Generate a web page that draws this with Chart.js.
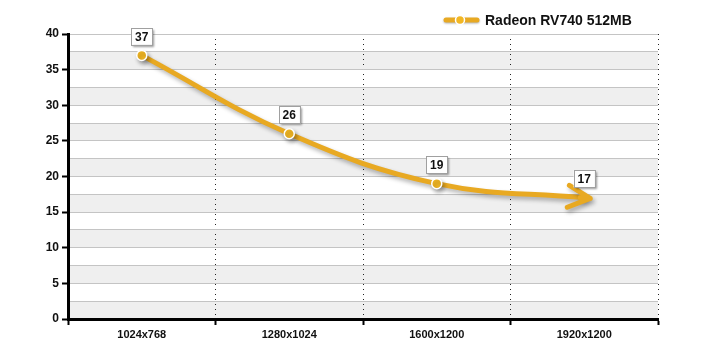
<!DOCTYPE html>
<html>
<head>
<meta charset="utf-8">
<script src="https://cdn.jsdelivr.net/npm/chart.js@4"></script>
<style>
  html, body { margin: 0; padding: 0; background: #fff; }
  #wrap { width: 720px; height: 361px; }
</style>
</head>
<body>
<div id="wrap"><canvas id="chart" width="720" height="361"></canvas></div>
<script>
// chart data
const resolutions = ['1024x768', '1280x1024', '1600x1200', '1920x1200'];
const fpsValues = [37, 26, 19, 17];
const seriesName = 'Radeon RV740 512MB';

const lineColor = '#E8A922';

// gray stripes between every other 2.5 band
const bandsPlugin = {
    id: 'bands',
    beforeDraw(chart) {
        const { ctx, chartArea, scales } = chart;
        ctx.save();
        ctx.fillStyle = '#efefef';
        for (let v = 0; v < 40; v += 5) {
            const y1 = scales.y.getPixelForValue(v);
            const y2 = scales.y.getPixelForValue(v + 2.5);
            ctx.fillRect(chartArea.left, y2, chartArea.right - chartArea.left, y1 - y2);
        }
        ctx.restore();
    }
};

// shadow under the line
const shadowPlugin = {
    id: 'lineShadow',
    beforeDatasetDraw(chart) {
        const ctx = chart.ctx;
        ctx.save();
        ctx.shadowColor = 'rgba(0,0,0,0.3)';
        ctx.shadowBlur = 4;
        ctx.shadowOffsetX = 2;
        ctx.shadowOffsetY = 3;
    },
    afterDatasetDraw(chart) {
        chart.ctx.restore();
    }
};

// arrow head on last point + value boxes
const labelsPlugin = {
    id: 'valueBoxes',
    afterDatasetsDraw(chart) {
        const ctx = chart.ctx;
        const pts = chart.getDatasetMeta(0).data;
        const last = pts[pts.length - 1];
        const prev = pts[pts.length - 2];

        // arrow
        const cx = last.cp1x !== undefined ? last.cp1x : prev.x;
        const cy = last.cp1y !== undefined ? last.cp1y : prev.y;
        let dx = last.x - cx, dy = last.y - cy;
        const len = Math.hypot(dx, dy) || 1;
        dx /= len; dy /= len;
        const tipX = last.x + dx * 6, tipY = last.y + dy * 6;
        const nx = -dy, ny = dx;
        ctx.save();
        ctx.shadowColor = 'rgba(0,0,0,0.3)';
        ctx.shadowBlur = 4;
        ctx.shadowOffsetX = 2;
        ctx.shadowOffsetY = 3;
        ctx.strokeStyle = lineColor;
        ctx.lineWidth = 5;
        ctx.lineCap = 'round';
        ctx.lineJoin = 'round';
        ctx.beginPath();
        ctx.moveTo(tipX - dx * 22 + nx * 11, tipY - dy * 22 + ny * 11);
        ctx.lineTo(tipX, tipY);
        ctx.lineTo(tipX - dx * 22 - nx * 11, tipY - dy * 22 - ny * 11);
        ctx.moveTo(last.x - dx * 4, last.y - dy * 4);
        ctx.lineTo(tipX, tipY);
        ctx.stroke();
        ctx.restore();

        // value boxes
        ctx.save();
        ctx.font = 'bold 12px Arial, "Liberation Sans", sans-serif';
        ctx.textAlign = 'center';
        ctx.textBaseline = 'middle';
        pts.forEach((p, i) => {
            const txt = String(fpsValues[i]);
            const w = ctx.measureText(txt).width + 8;
            const h = 17;
            const bx = p.x - w / 2;
            const by = p.y - 19 - h / 2;
            ctx.save();
            ctx.shadowColor = 'rgba(0,0,0,0.4)';
            ctx.shadowBlur = 2;
            ctx.shadowOffsetX = 2;
            ctx.shadowOffsetY = 2;
            ctx.fillStyle = '#fff';
            ctx.fillRect(bx, by, w, h);
            ctx.restore();
            ctx.strokeStyle = '#a0a0a0';
            ctx.lineWidth = 1;
            ctx.strokeRect(Math.round(bx) + 0.5, Math.round(by) + 0.5, Math.round(w), h);
            ctx.fillStyle = '#111';
            ctx.fillText(txt, p.x, by + h / 2 + 1);
        });
        ctx.restore();
    }
};

// legend in the top right corner
const legendPlugin = {
    id: 'customLegend',
    afterDraw(chart) {
        const ctx = chart.ctx;
        const y = 20;
        ctx.save();
        ctx.shadowColor = 'rgba(0,0,0,0.3)';
        ctx.shadowBlur = 2;
        ctx.shadowOffsetY = 1;
        ctx.strokeStyle = lineColor;
        ctx.lineWidth = 5;
        ctx.lineCap = 'round';
        ctx.beginPath();
        ctx.moveTo(446, y);
        ctx.lineTo(477, y);
        ctx.stroke();
        ctx.restore();
        ctx.save();
        ctx.beginPath();
        ctx.arc(460, y, 4.5, 0, Math.PI * 2);
        ctx.fillStyle = '#F2B724';
        ctx.fill();
        ctx.strokeStyle = '#fff';
        ctx.lineWidth = 1.5;
        ctx.stroke();
        ctx.font = 'bold 14px Arial, "Liberation Sans", sans-serif';
        ctx.fillStyle = '#111';
        ctx.textBaseline = 'middle';
        ctx.fillText(seriesName, 485, y + 1);
        ctx.restore();
    }
};

new Chart(document.getElementById('chart'), {
    type: 'line',
    data: {
        labels: resolutions,
        datasets: [{
            label: seriesName,
            data: fpsValues,
            borderColor: lineColor,
            borderWidth: 5,
            tension: 0.4,
            fill: false,
            pointRadius: [5, 5, 5, 0],
            pointBackgroundColor: '#F2B724',
            pointBorderColor: '#fff',
            pointBorderWidth: 1.5,
            borderCapStyle: 'round'
        }]
    },
    options: {
        responsive: false,
        animation: false,
        layout: { padding: { top: 34, right: 62, left: 0, bottom: 0 } },
        plugins: {
            legend: { display: false },
            tooltip: { enabled: false }
        },
        scales: {
            x: {
                offset: true,
                grid: {
                    offset: true,
                    color: '#222',
                    lineWidth: 1,
                    tickColor: '#000',
                    tickLength: 6,
                    tickWidth: 2,
                    tickBorderDash: []
                },
                border: { color: '#000', width: 3, dash: [1, 4] },
                ticks: {
                    color: '#111',
                    font: { family: 'Arial, "Liberation Sans", sans-serif', size: 11, weight: 'bold' },
                    padding: 3,
                    maxRotation: 0
                },
                afterFit(scale) { scale.height = 42; }
            },
            y: {
                min: 0,
                max: 40,
                grid: {
                    color: '#c4c4c4',
                    lineWidth: 1,
                    tickLength: 6,
                    tickWidth: 2,
                    tickColor: (c) => (c.tick && c.tick.value % 5 === 0 ? '#000' : 'rgba(0,0,0,0)')
                },
                border: { color: '#000', width: 3 },
                ticks: {
                    stepSize: 2.5,
                    autoSkip: false,
                    color: '#111',
                    font: { family: 'Arial, "Liberation Sans", sans-serif', size: 12, weight: 'bold' },
                    padding: 3,
                    callback: (v) => (v % 5 === 0 ? v : '')
                },
                afterFit(scale) { scale.width = 68; }
            }
        }
    },
    plugins: [bandsPlugin, shadowPlugin, labelsPlugin, legendPlugin]
});
</script>
</body>
</html>
